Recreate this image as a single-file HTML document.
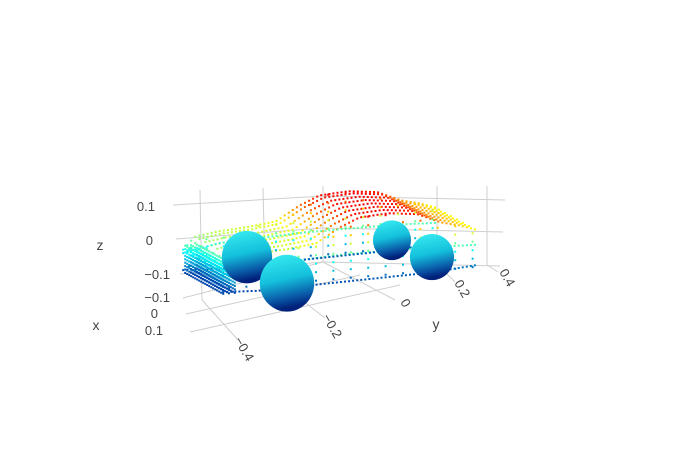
<!DOCTYPE html>
<html><head><meta charset="utf-8"><style>
html,body{margin:0;padding:0;background:#fff;}
svg{display:block;font-family:"Liberation Sans",sans-serif;}
.tk{font-size:13px;fill:#444;}
.ax{font-size:14px;fill:#444;}
</style></head><body>
<svg id="chart" width="700" height="450" viewBox="0 0 700 450">
<defs>
<linearGradient id="wg" x1="0" y1="0" x2="0.2" y2="1">
<stop offset="0" stop-color="#3af0f2"/><stop offset="0.5" stop-color="#14c0dc"/><stop offset="0.82" stop-color="#0a5aa8"/><stop offset="1" stop-color="#00207a"/>
</linearGradient>
</defs>
<g id="grid" stroke="#cfcfcf" stroke-width="1" fill="none">
<line x1="173" y1="205" x2="323" y2="196"/><line x1="323" y1="196" x2="505" y2="200"/>
<line x1="176" y1="239" x2="323" y2="228"/><line x1="323" y1="228" x2="503" y2="232"/>
<line x1="180" y1="274" x2="323" y2="262"/><line x1="323" y1="262" x2="500" y2="266"/>
<line x1="200" y1="190" x2="202" y2="300"/><line x1="263" y1="188" x2="265" y2="270"/>
<line x1="323" y1="186" x2="323" y2="262"/><line x1="437" y1="186" x2="437" y2="264"/>
<line x1="487" y1="186" x2="487" y2="265"/>
<line x1="183" y1="298" x2="323" y2="262"/><line x1="186" y1="314" x2="360" y2="275"/>
<line x1="190" y1="332" x2="400" y2="285"/>
<line x1="202" y1="300" x2="238" y2="340"/><line x1="263" y1="270" x2="325" y2="318"/>
<line x1="323" y1="262" x2="395" y2="300"/><line x1="437" y1="264" x2="455" y2="282"/>
<line x1="487" y1="265" x2="498" y2="272"/>
</g>
<g id="points"></g>
<g id="labels">
<text class="ax" x="100" y="250" text-anchor="middle">z</text>
<text class="ax" x="96" y="330" text-anchor="middle">x</text>
<text class="ax" x="436" y="329" text-anchor="middle">y</text>
<text class="tk" x="155" y="211" text-anchor="end">0.1</text>
<text class="tk" x="153" y="245" text-anchor="end">0</text>
<text class="tk" x="170" y="279" text-anchor="end">−0.1</text>
<text class="tk" x="170" y="302" text-anchor="end">−0.1</text>
<text class="tk" x="158" y="318" text-anchor="end">0</text>
<text class="tk" x="163" y="335" text-anchor="end">0.1</text>
<text class="tk" transform="translate(234,340) rotate(60)">−0.4</text>
<text class="tk" transform="translate(322,317) rotate(60)">−0.2</text>
<text class="tk" transform="translate(400,302) rotate(60)">0</text>
<text class="tk" transform="translate(454,283) rotate(60)">0.2</text>
<text class="tk" transform="translate(499,272) rotate(60)">0.4</text>
</g>
</svg>
<script>
// body profile (y, z) - roof/hood top line
const topY = [-0.42,-0.38,-0.3,-0.2,-0.1,-0.02,0.05,0.15,0.25,0.33,0.4,0.45];
const topZ = [0.0,0.035,0.045,0.05,0.06,0.1,0.125,0.13,0.12,0.09,0.075,0.06];
// beltline and sill lines
const beltY = [-0.42,-0.3,0,0.3,0.45];
const beltZ = [-0.01,0.01,0.02,0.02,0.015];
const sillY = [-0.42,-0.3,0,0.3,0.45];
const sillZ = [-0.06,-0.065,-0.06,-0.055,-0.045];
// wheels: y, z, side fraction, radius
const wheelY = [0.3,-0.2,0.3,-0.2];
const wheelZ = [-0.025,-0.038,-0.01,-0.05];
const wheelF = [1,1,0,0];
const wheelR = [0.056,0.074,0.065,0.08];

const NS='http://www.w3.org/2000/svg';
const g=document.getElementById('points');
function sx(y,f){return 345+y*290-40*f;}
function sy(y,z,f){return 285-25*y-340*(z+0.07)-22*f;}
const jet=[[0,[0,0,131]],[0.125,[0,60,170]],[0.375,[5,255,255]],[0.625,[255,255,0]],[0.875,[250,0,0]],[1,[128,0,0]]];
function col(z){let t=(z+0.1)/0.26;t=Math.max(0,Math.min(1,t));
 for(let i=1;i<jet.length;i++){if(t<=jet[i][0]){const a=jet[i-1],b=jet[i];const u=(t-a[0])/(b[0]-a[0]);
 return 'rgb('+a[1].map((c,k)=>Math.round(c+(b[1][k]-c)*u)).join(',')+')';}}return 'rgb(128,0,0)';}
function interp(ys,zs,y){for(let i=1;i<ys.length;i++){if(y<=ys[i]){const u=(y-ys[i-1])/(ys[i]-ys[i-1]);return zs[i-1]+(zs[i]-zs[i-1])*u;}}return zs[zs.length-1];}
function dot(y,z,f){const r=document.createElementNS(NS,'rect');
 r.setAttribute('x',(sx(y,f)-1).toFixed(1));r.setAttribute('y',(sy(y,z,f)-1).toFixed(1));
 r.setAttribute('width',2);r.setAttribute('height',2);r.setAttribute('fill',col(z));
 
 
 g.appendChild(r);}
function line(ys,zs,fs,step){for(const f of fs){for(let y=ys[0];y<=ys[ys.length-1];y+=step){dot(y,interp(ys,zs,y),f);}}}
line(topY,topZ,[0,0.15,0.3,0.45,0.6,0.75,0.9,1],0.014);
line(beltY,beltZ,[0,1],0.014);
line(sillY,sillZ,[0,1],0.014);
// vertical side dots
for(const f of [0,1]){for(let y=-0.4;y<=0.44;y+=0.06){const zt=interp(topY,topZ,y);for(let z=-0.05;z<zt;z+=0.025)dot(y,z,f);}}
// front bumper face (dense)
for(const yb of [-0.42,-0.4,-0.38]){for(let f=0;f<=1;f+=0.05){for(let z=-0.065;z<=0.02;z+=0.01)dot(yb,z,f);}}
// wheels
wheelY.forEach((y,i)=>{const e=document.createElementNS(NS,'ellipse');
 e.setAttribute('cx',sx(y,wheelF[i]));e.setAttribute('cy',sy(y,wheelZ[i],wheelF[i]));
 e.setAttribute('rx',wheelR[i]*340);e.setAttribute('ry',wheelR[i]*355);
 e.setAttribute('fill','url(#wg)');
 
 
 g.appendChild(e);});
</script>
</body></html>
